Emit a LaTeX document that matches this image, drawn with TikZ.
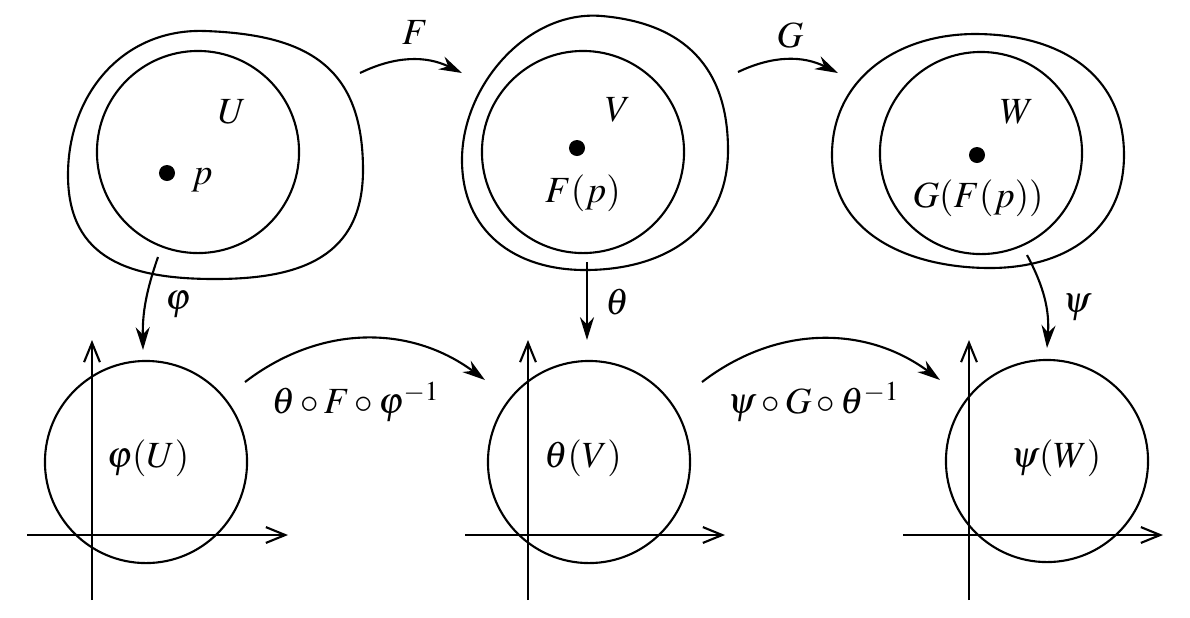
\documentclass[tikz,border=0pt]{standalone}
\usepackage{mathptmx}
\usetikzlibrary{arrows.meta}

\begin{document}
\begin{tikzpicture}[x=0.01cm, y=-0.01cm, line width=0.6pt,
  every node/.style={font=\fontsize{10.5}{12}\selectfont},
  region/.style={draw, circle, minimum size=2.02cm, inner sep=0pt},
  chart/.style={draw, circle, minimum size=2.02cm, inner sep=0pt},
  pt/.style={circle, fill, inner sep=0pt, minimum size=1.6mm},
  map/.style={-{Stealth[length=6.5pt, width=4pt]}},
  axis/.style={-{Straight Barb[length=5.5pt, width=4.5pt]}}]
\useasboundingbox (0,0) rectangle (1190,617);

% open sets on the manifolds
\draw (68,175) to[out=90, in=178, looseness=1.05] (205,31)
  to[out=-2, in=90, looseness=1.25] (363,170)
  to[out=-90, in=0, looseness=1.2] (215,279)
  to[out=180, in=-90, looseness=1.2] (68,175) -- cycle;
\draw (462,160) to[out=90, in=175, looseness=0.95] (602,16)
  to[out=-5, in=90, looseness=1.15] (728,150)
  to[out=-90, in=0, looseness=1.1] (585,270)
  to[out=180, in=-90, looseness=1.1] (462,160) -- cycle;
\draw (832,155) to[out=90, in=180, looseness=1.05] (975,34)
  to[out=0, in=90, looseness=1.1] (1124,155)
  to[out=-90, in=0, looseness=1.1] (990,268)
  to[out=180, in=-90, looseness=1.05] (832,155) -- cycle;

\node[region] (cU) at (198,152) {};
\node[region] (cV) at (583,152) {};
\node[region] (cW) at (981,153) {};
\node[pt] (pU) at (167,173) {};
\node[pt] (pV) at (577,148) {};
\node[pt] (pW) at (977,155) {};
\node (lU) at (232,112) {$U$};
\node (lp) at (202,180) {$p$};
\node (lV) at (618,110) {$V$};
\node (lFp) at (583,193) {$F(p)$};
\node (lW) at (1017,112) {$W$};
\node (lGFp) at (978,198) {$G(F(p))$};

% coordinate charts
\draw[axis] (27,535) -- (288,535);
\draw[axis] (92,600) -- (92,340);
\draw[axis] (465,535) -- (725,535);
\draw[axis] (528,600) -- (528,340);
\draw[axis] (903,535) -- (1163,535);
\draw[axis] (969,600) -- (969,340);
\node[chart] (dU) at (146,462) {};
\node[chart] (dV) at (589,462) {};
\node[chart] (dW) at (1047,461) {};
\node (lphiU) at (148,458) {$\varphi(U)$};
\node (lthV) at (583,458) {$\theta(V)$};
\node (lpsiW) at (1056,458) {$\psi(W)$};

% maps
\coordinate (F0) at (360,73);   \coordinate (F1) at (462,73);
\coordinate (G0) at (738,72);   \coordinate (G1) at (838,73);
\coordinate (phi0) at (158,257); \coordinate (phi1) at (143,350);
\coordinate (th0) at (587,262);  \coordinate (th1) at (587,340);
\coordinate (psi0) at (1027,255); \coordinate (psi1) at (1047,348);
\coordinate (tf0) at (245,382);  \coordinate (tf1) at (485,380);
\coordinate (pg0) at (702,382);  \coordinate (pg1) at (940,380);
\draw[map] (F0) to[bend left=26] (F1);
\draw[map] (G0) to[bend left=26] (G1);
\draw[map] (phi0) to[bend right=10] (phi1);
\draw[map] (th0) -- (th1);
\draw[map] (psi0) to[bend left=16] (psi1);
\draw[map] (tf0) to[bend left=37] (tf1);
\draw[map] (pg0) to[bend left=37] (pg1);
\node (lF) at (415,33) {$F$};
\node (lG) at (790,35) {$G$};
\node (lphi) at (178,305) {$\varphi$};
\node (lth) at (617,302) {$\theta$};
\node (lpsi) at (1077,308) {$\psi$};
\node (ltf) at (356,402) {$\theta\circ F\circ\varphi^{-1}$};
\node (lpg) at (814,402) {$\psi\circ G\circ\theta^{-1}$};
\end{tikzpicture}
\end{document}
